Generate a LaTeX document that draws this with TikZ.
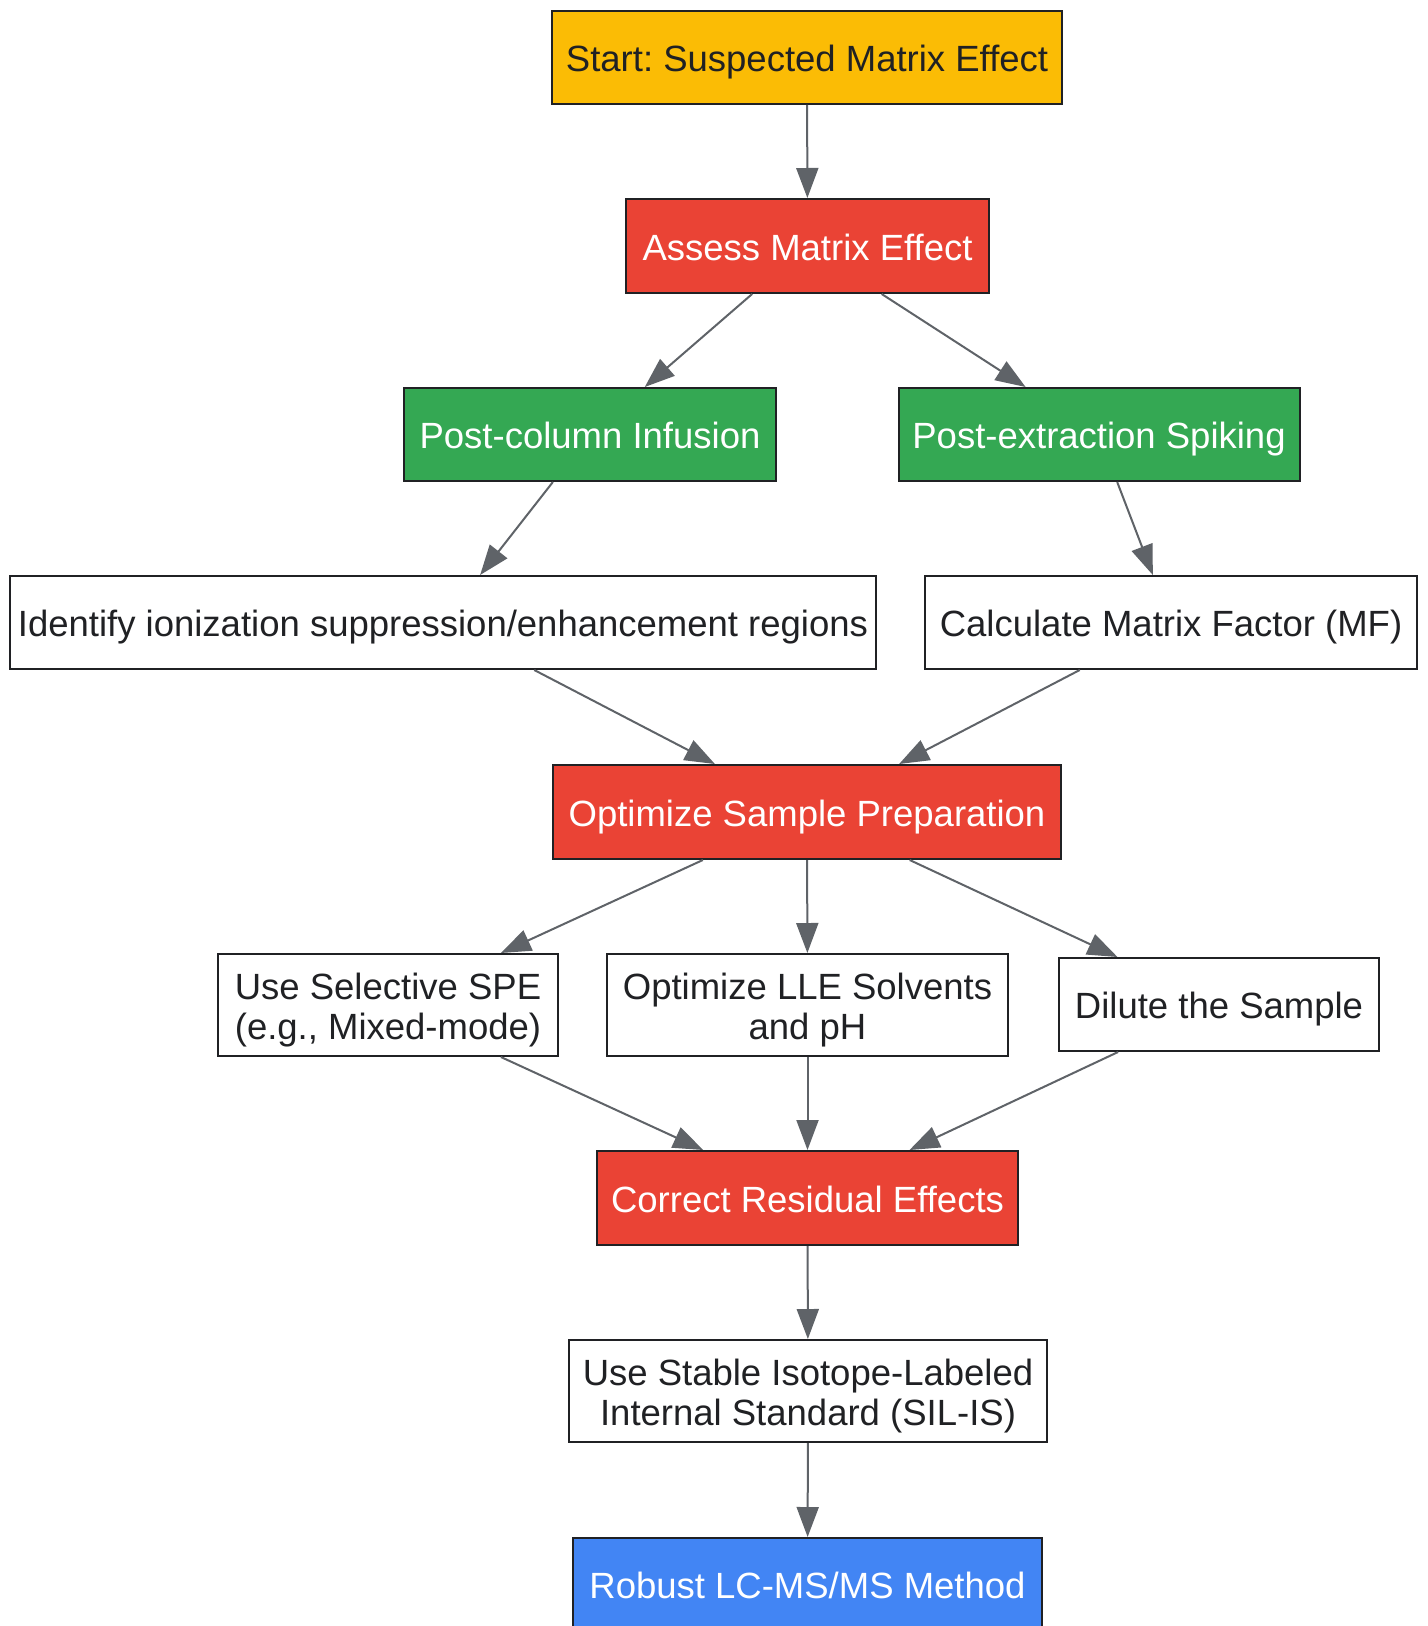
\documentclass[tikz,border=0pt]{standalone}
\usepackage{fontspec}
\setmainfont{Liberation Sans}
\usetikzlibrary{arrows.meta}
\definecolor{gyellow}{HTML}{FBBC05}
\definecolor{gred}{HTML}{EA4335}
\definecolor{ggreen}{HTML}{34A853}
\definecolor{gblue}{HTML}{4285F4}
\definecolor{darktext}{HTML}{202124}
\definecolor{boxline}{HTML}{202124}
\definecolor{edgegray}{HTML}{5F6368}
\frenchspacing
\begin{document}
\begin{tikzpicture}[x=0.5pt,y=-0.5pt,
  box/.style={draw=boxline, line width=1pt, rectangle, inner sep=0pt, align=center,
    font=\fontsize{18.25}{20}\selectfont, text=darktext, fill=white,
    text height=18.8pt, text depth=4.56pt},
  twoline/.style={text height=38.8pt, text depth=4.56pt},
  sz/.style 2 args={minimum width={#1*0.5pt-1pt}, minimum height={#2*0.5pt-1pt}},
  yellowbox/.style={box, fill=gyellow},
  redbox/.style={box, fill=gred, text=white},
  greenbox/.style={box, fill=ggreen, text=white},
  bluebox/.style={box, fill=gblue, text=white},
  edge/.style={draw=edgegray, line width=1pt, -{Triangle[length=15pt,width=11pt]}}]
\useasboundingbox (0,0) rectangle (1428,1626);
\node[yellowbox, sz={512}{95}] (start) at (807,57.5) {Start: Suspected Matrix Effect};
\node[redbox, sz={365}{96}] (assess) at (807.5,246) {Assess Matrix Effect};
\node[greenbox, sz={374}{95}] (pcol) at (590,434.5) {Post-column Infusion};
\node[greenbox, sz={403}{95}] (pext) at (1099,434.5) {Post-extraction Spiking};
\node[box, sz={868}{95}] (ident) at (443,622.5) {Identify ionization suppression/enhancement regions};
\node[box, sz={494}{95}] (calc) at (1171,622.5) {Calculate Matrix Factor (MF)};
\node[redbox, sz={510}{96}] (optim) at (807,812) {Optimize Sample Preparation};
\node[box, twoline, sz={342}{104}] (spe) at (388,1005) {Use Selective SPE\\(e.g., Mixed-mode)};
\node[box, twoline, sz={403}{104}] (lle) at (807.5,1005) {Optimize LLE Solvents\\and pH};
\node[box, sz={322}{95}] (dilute) at (1219,1004.5) {Dilute the Sample};
\node[redbox, sz={423}{96}] (correct) at (807.5,1198) {Correct Residual Effects};
\node[box, twoline, sz={480}{104}] (silis) at (808,1391) {Use Stable Isotope-Labeled\\Internal Standard (SIL-IS)};
\node[bluebox, sz={471}{95}] (robust) at (807.5,1584.5) {Robust LC-MS/MS Method};
\draw[edge] (start) -- (assess);
\draw[edge] (assess) -- (pcol);
\draw[edge] (assess) -- (pext);
\draw[edge] (pcol) -- (ident);
\draw[edge] (pext) -- (calc);
\draw[edge] (ident) -- (optim);
\draw[edge] (calc) -- (optim);
\draw[edge] (optim) -- (spe);
\draw[edge] (optim) -- (lle);
\draw[edge] (optim) -- (dilute);
\draw[edge] (spe) -- (correct);
\draw[edge] (lle) -- (correct);
\draw[edge] (dilute) -- (correct);
\draw[edge] (correct) -- (silis);
\draw[edge] (silis) -- (robust);
\end{tikzpicture}
\end{document}
